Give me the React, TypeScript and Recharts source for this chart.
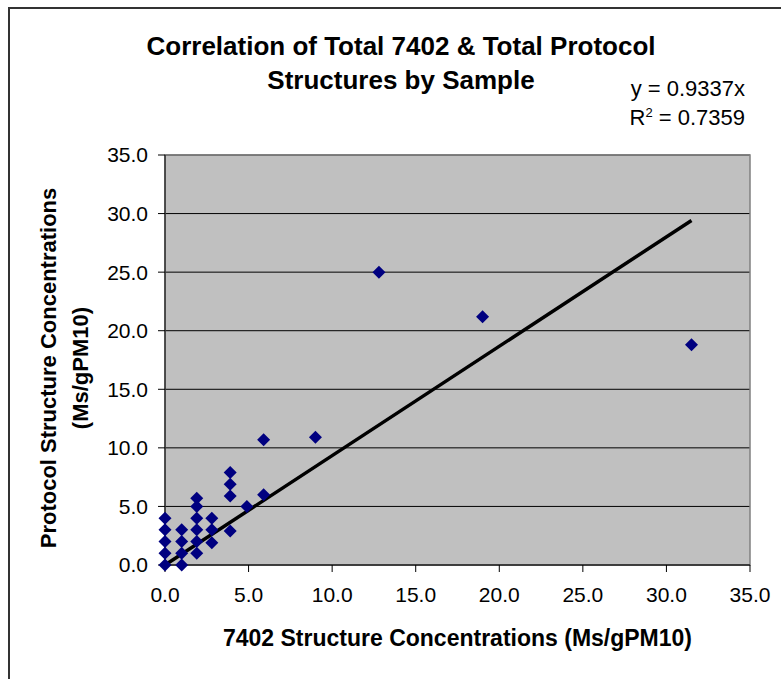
import { ScatterChart, Scatter, XAxis, YAxis, CartesianGrid, ReferenceArea } from 'recharts';

const x7402 = [0, 0, 0, 0, 0, 1, 1, 1, 1, 1.9, 1.9, 1.9, 1.9, 1.9, 1.9, 2.8, 2.8, 2.8, 3.9, 3.9, 3.9, 3.9, 4.9, 5.9, 5.9, 9.0, 12.8, 19.0, 31.5];
const yProtocol = [0, 1, 2, 3, 4, 0, 1, 2, 3, 1, 2, 3, 4, 5, 5.7, 1.9, 3, 4, 2.9, 5.9, 6.9, 7.9, 5, 6, 10.7, 10.9, 25, 21.2, 18.8];
const ticks = [0, 5, 10, 15, 20, 25, 30, 35];
const slope = 0.9337;

const points = x7402.map((x, i) => ({ x, y: yProtocol[i] }));
const maxX = Math.max(...x7402);
const trend = [
  { x: 0, y: 0 },
  { x: maxX, y: slope * maxX },
];

const font = '"Liberation Sans", Arial, sans-serif';

function Diamond(props: any) {
  const { cx, cy } = props;
  const r = 6.5;
  return <polygon points={`${cx},${cy - r} ${cx + r},${cy} ${cx},${cy + r} ${cx - r},${cy}`} fill="#000080" />;
}

export default function App() {
  return (
    <div style={{ position: 'absolute', left: 0, top: 0, width: 781, height: 679, background: '#fff', overflow: 'hidden', fontFamily: font }}>
      <div style={{ position: 'absolute', left: 8, top: 7, width: 800, height: 700, borderLeft: '2px solid #333', borderTop: '2px solid #333' }} />
      <div style={{ position: 'absolute', left: 0, top: 29, width: 802, textAlign: 'center', fontSize: 26, fontWeight: 'bold', lineHeight: '34px' }}>
        Correlation of Total 7402 &amp; Total Protocol
        <br />
        Structures by Sample
      </div>
      <div style={{ position: 'absolute', right: 36, top: 74, textAlign: 'right', fontSize: 22, lineHeight: '29px' }}>
        y = 0.9337x
        <br />
        R<sup style={{ fontSize: 13, verticalAlign: 'top', lineHeight: '20px' }}>2</sup> = 0.7359
      </div>
      <ScatterChart width={781} height={679} margin={{ top: 155, right: 31, bottom: 74, left: 105 }} style={{ fontFamily: font }}>
        <CartesianGrid vertical={false} stroke="#000" fill="#C0C0C0" fillOpacity={1} />
        <ReferenceArea x1={0} x2={35} y1={0} y2={35} fill="none" stroke="#808080" strokeWidth={1.5} />
        <XAxis
          type="number"
          dataKey="x"
          domain={[0, 35]}
          ticks={ticks}
          tickFormatter={(v: number) => v.toFixed(1)}
          axisLine={{ stroke: '#000' }}
          tickLine={{ stroke: '#000' }}
          tickSize={7}
          fontSize={21}
          tick={{ fill: '#000', fontSize: 21, fontFamily: font, dy: 13 }}
          height={40}
        />
        <YAxis
          type="number"
          dataKey="y"
          domain={[0, 35]}
          ticks={ticks}
          tickFormatter={(v: number) => v.toFixed(1)}
          axisLine={{ stroke: '#000' }}
          tickLine={{ stroke: '#000' }}
          tickSize={7}
          fontSize={21}
          tick={{ fill: '#000', fontSize: 21, fontFamily: font, dx: -8 }}
          width={60}
        />
        <Scatter data={trend} line={{ stroke: '#000', strokeWidth: 3.5 }} shape={() => null} isAnimationActive={false} />
        <Scatter data={points} shape={Diamond} fill="#000080" isAnimationActive={false} />
      </ScatterChart>
      <div style={{ position: 'absolute', left: 165, width: 585, top: 625, textAlign: 'center', fontSize: 23, fontWeight: 'bold' }}>
        7402 Structure Concentrations (Ms/gPM10)
      </div>
      <div
        style={{
          position: 'absolute',
          left: 65,
          top: 368,
          width: 440,
          transform: 'translate(-50%, -50%) rotate(-90deg)',
          textAlign: 'center',
          fontSize: 22,
          fontWeight: 'bold',
          lineHeight: '32px',
        }}
      >
        Protocol Structure Concentrations
        <br />
        (Ms/gPM10)
      </div>
    </div>
  );
}
